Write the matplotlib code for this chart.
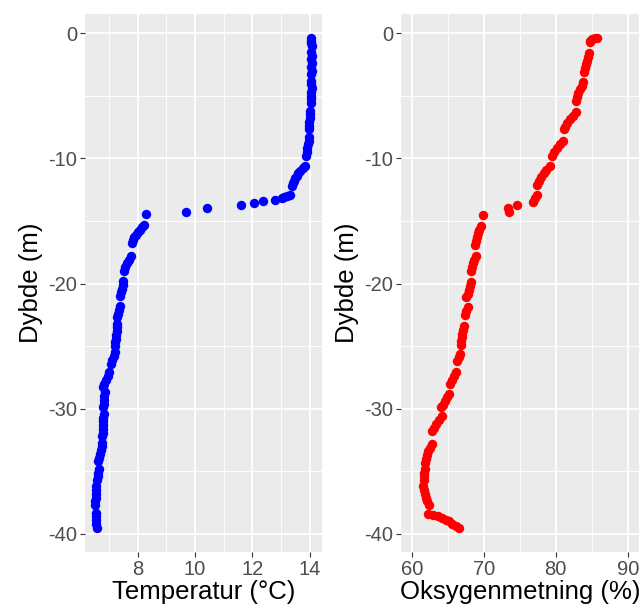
import matplotlib
matplotlib.use("Agg")
import matplotlib.pyplot as plt
import numpy as np

# temperature profile (depth m, temperature degC)
temp_depth = [
    -0.4, -0.6, -0.8, -1.0,
    -1.5, -1.8, -2.1, -2.4, -2.7, -3.0, -3.3,
    -3.8, -4.1, -4.4, -4.7, -5.0, -5.3, -5.6,
    -6.2, -6.5, -6.8, -7.1, -7.4, -7.7,
    -8.3, -8.6, -8.9, -9.2, -9.5, -9.8,
    -10.6, -10.8, -11.0, -11.2, -11.4, -11.6, -11.8, -12.0, -12.2,
    -12.96, -13.05, -13.1, -13.2, -13.36, -13.44, -13.57, -13.7, -13.95, -14.3, -14.48,
    -15.3, -15.5, -15.7, -15.9, -16.1, -16.3, -16.5, -16.8,
    -17.8, -18.1, -18.4, -18.7, -19.0,
    -19.8, -20.1, -20.4, -20.7, -21.0,
    -21.8, -22.1, -22.4, -22.7,
    -23.2, -23.5, -23.8, -24.1, -24.4, -24.7, -25.0,
    -25.5, -25.8, -26.1, -26.4, -27.1, -27.4, -27.7, -28.0, -28.3,
    -28.7, -29.0, -29.3, -29.6, -29.9,
    -30.4, -30.7, -31.0, -31.3, -31.6, -31.9, -32.2,
    -32.7, -33.0, -33.3, -33.6, -33.9, -34.2,
    -34.8, -35.1, -35.4, -35.7,
    -36.2, -36.5, -36.8, -37.1, -37.4, -37.7,
    -38.3, -38.6, -38.9, -39.2, -39.5,
]
temp_val = [
    14.04, 14.06, 14.05, 14.07,
    14.06, 14.07, 14.05, 14.08, 14.06, 14.07, 14.06,
    14.06, 14.05, 14.07, 14.06, 14.05, 14.06, 14.04,
    14.02, 14.01, 14.00, 13.99, 13.97, 13.96,
    13.98, 13.96, 13.94, 13.92, 13.89, 13.87,
    13.84, 13.75, 13.66, 13.60, 13.55, 13.50, 13.45, 13.41, 13.37,
    13.32, 13.22, 13.12, 13.02, 12.80, 12.38, 12.04, 11.59, 10.42, 9.68, 8.30,
    8.23, 8.15, 8.07, 8.00, 7.93, 7.87, 7.83, 7.79,
    7.78, 7.70, 7.63, 7.57, 7.53,
    7.50, 7.47, 7.44, 7.41, 7.38,
    7.38, 7.35, 7.32, 7.29,
    7.28, 7.27, 7.26, 7.25, 7.23, 7.22, 7.21,
    7.21, 7.17, 7.11, 7.05, 7.00, 6.95, 6.89, 6.84, 6.80,
    6.86, 6.84, 6.83, 6.82, 6.80,
    6.81, 6.80, 6.80, 6.79, 6.78, 6.78, 6.77,
    6.77, 6.74, 6.71, 6.68, 6.66, 6.63,
    6.65, 6.62, 6.60, 6.58,
    6.56, 6.55, 6.54, 6.53, 6.52, 6.51,
    6.53, 6.53, 6.54, 6.55, 6.59,
]

# oxygen saturation profile (depth m, %)
oxy_depth = [
    -0.37, -0.4, -0.45, -0.6, -0.7,
    -1.6, -1.9, -2.2, -2.5, -2.8, -3.1,
    -3.9, -4.2, -4.5, -4.8, -5.1, -5.4,
    -6.3, -6.6, -6.9, -7.2, -7.5, -7.7,
    -8.6, -8.9, -9.2, -9.5, -9.8,
    -10.6, -10.9, -11.2, -11.5, -11.8, -12.1,
    -12.9, -13.2, -13.5,
    -13.7, -13.97, -14.3,
    -14.5,
    -15.4, -15.7, -16.0, -16.3, -16.6, -16.9,
    -17.8, -18.1, -18.4, -18.7, -19.0,
    -19.9, -20.2, -20.5, -20.8, -21.1,
    -21.9, -22.2, -22.5,
    -23.4, -23.7, -24.0, -24.3, -24.6, -24.9,
    -25.6, -25.9, -26.2,
    -27.1, -27.4, -27.7, -28.0,
    -28.8, -29.1, -29.4, -29.7, -29.9,
    -30.6, -30.9, -31.2, -31.5, -31.8,
    -32.8, -33.1, -33.4, -33.7, -34.0, -34.3,
    -34.8, -35.1, -35.4, -35.7,
    -36.2, -36.5, -36.8, -37.1, -37.4, -37.7,
    -38.4, -38.5, -38.6, -38.7, -38.85, -39.0, -39.2, -39.4, -39.55,
]
oxy_val = [
    85.8, 85.4, 85.0, 84.8, 84.7,
    84.6, 84.5, 84.35, 84.2, 84.05, 83.9,
    83.8, 83.6, 83.35, 83.15, 82.95, 82.75,
    82.8, 82.4, 82.0, 81.6, 81.3, 81.15,
    81.05, 80.6, 80.2, 79.8, 79.45,
    79.2, 78.7, 78.3, 77.95, 77.65, 77.4,
    77.35, 77.05, 76.8,
    74.6, 73.4, 73.55,
    69.95,
    69.6, 69.4, 69.2, 69.05, 68.9, 68.8,
    68.9, 68.7, 68.55, 68.4, 68.25,
    68.2, 68.05, 67.9, 67.75, 67.6,
    67.75, 67.55, 67.35,
    67.2, 67.1, 67.0, 66.95, 66.9, 66.8,
    66.7, 66.5, 66.3,
    66.2, 65.9, 65.6, 65.35,
    65.2, 64.9, 64.6, 64.3, 64.05,
    64.15, 63.75, 63.4, 63.1, 62.85,
    62.75, 62.5, 62.3, 62.1, 61.95, 61.85,
    61.8, 61.72, 61.68, 61.7,
    61.6, 61.65, 61.8, 61.95, 62.15, 62.4,
    62.3, 62.9, 63.6, 64.2, 64.8, 65.2, 65.6, 66.1, 66.6,
]

plt.rcParams['font.family'] = ['Liberation Sans', 'DejaVu Sans']
plt.rcParams['axes.unicode_minus'] = False

W, H = 643, 608
fig = plt.figure(figsize=(W / 100, H / 100), dpi=100)

y_lim = (-41.44, 1.52)


def style_panel(ax, xticks, xminor, xlim, xlabel):
    ax.set_facecolor('#EBEBEB')
    ax.set_xlim(*xlim)
    ax.set_ylim(*y_lim)
    ax.set_xticks(xticks)
    ax.set_xticks(xminor, minor=True)
    ax.set_yticks([0, -10, -20, -30, -40])
    ax.set_yticks([-5, -15, -25, -35], minor=True)
    ax.grid(which='major', color='white', linewidth=1.3)
    ax.grid(which='minor', color='white', linewidth=0.65)
    ax.set_axisbelow(True)
    for s in ax.spines.values():
        s.set_visible(False)
    ax.tick_params(which='major', length=3.5, width=0.8, color='#333333',
                   labelsize=14.5, labelcolor='#4D4D4D', pad=2)
    ax.tick_params(which='minor', length=0)
    ax.set_xlabel(xlabel, fontsize=18.5, color='black', labelpad=1)
    ax.set_ylabel('Dybde (m)', fontsize=18.5, color='black', labelpad=4)


ax1 = fig.add_axes([85 / W, 56 / H, 237 / W, 538 / H])
ax1.scatter(temp_val, temp_depth, s=46, color='blue', linewidths=0)
style_panel(ax1, [8, 10, 12, 14], [7, 9, 11, 13], (6.16, 14.43), 'Temperatur (°C)')

ax2 = fig.add_axes([401 / W, 56 / H, 237.5 / W, 538 / H])
ax2.scatter(oxy_val, oxy_depth, s=46, color='red', linewidths=0)
style_panel(ax2, [60, 70, 80, 90], [65, 75, 85], (58.5, 91.5), 'Oksygenmetning (%)')

fig.savefig('out.png', dpi=100, facecolor='white')
